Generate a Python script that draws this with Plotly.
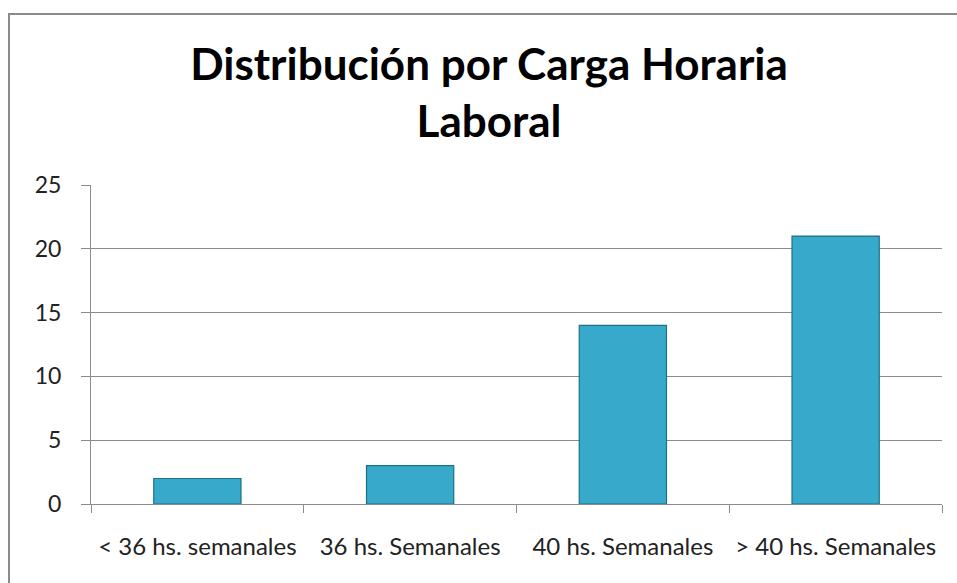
import plotly.graph_objects as go

categories = ["< 36 hs. semanales", "36 hs. Semanales", "40 hs. Semanales", "> 40 hs. Semanales"]
values = [2, 3, 14, 21]
y_ticks = [0, 5, 10, 15, 20, 25]
title_text = "Distribución por Carga Horaria<br>Laboral"

W, H = 957, 583
# plot area in page pixels: x 91..942, y 185..504
L, R, T, B = 91, W - 942, 185, H - 504
pw, ph = W - L - R, H - T - B

def page_x_to_paper(px):
    return (px - L) / pw

def page_y_to_paper(py):
    return (H - B - py) / ph

fig = go.Figure()
fig.add_trace(go.Bar(
    x=categories, y=values,
    marker=dict(color="#37aacb", line=dict(color="#1f6f87", width=1.2)),
    width=0.41,
))

fig.update_layout(
    width=W, height=H,
    margin=dict(l=L, r=R, t=T, b=B),
    paper_bgcolor="white", plot_bgcolor="white",
    showlegend=False,
    font=dict(family="Lato, Open Sans, sans-serif", color="#222222"),
    title=dict(
        text=title_text,
        x=489 / W, xref="container", xanchor="center",
        y=1 - 80 / H, yref="container", yanchor="top",
        font=dict(family="Lato, Open Sans, sans-serif", size=44, color="#000000", weight="bold"),
    ),
)
fig.update_xaxes(
    type="category",
    showline=True, linecolor="#8c8c8c", linewidth=1,
    ticks="outside", tickson="boundaries", ticklen=8, tickcolor="#8c8c8c",
    showgrid=False,
    tickfont=dict(size=24, color="#222222"),
    ticklabelstandoff=21,
)
fig.update_yaxes(
    range=[0, 25], tickvals=y_ticks, ticktext=[str(v) for v in y_ticks],
    showline=True, linecolor="#8c8c8c", linewidth=1,
    ticks="outside", ticklen=9, tickcolor="#8c8c8c",
    showgrid=True, gridcolor="#8c8c8c", gridwidth=1,
    zeroline=False,
    tickfont=dict(size=23, color="#222222"),
    ticklabelstandoff=15,
)

# outer chart border (Excel chart area)
fig.add_shape(
    type="rect", xref="paper", yref="paper",
    x0=page_x_to_paper(9), x1=page_x_to_paper(990),
    y0=page_y_to_paper(620), y1=page_y_to_paper(14),
    line=dict(color="#8a8a8a", width=2), fillcolor="rgba(0,0,0,0)",
    layer="below",
)

fig.write_html(
    "out.html",
    config={"displayModeBar": False},
    post_script="document.body.style.margin='0';document.body.style.overflow='hidden';",
)
